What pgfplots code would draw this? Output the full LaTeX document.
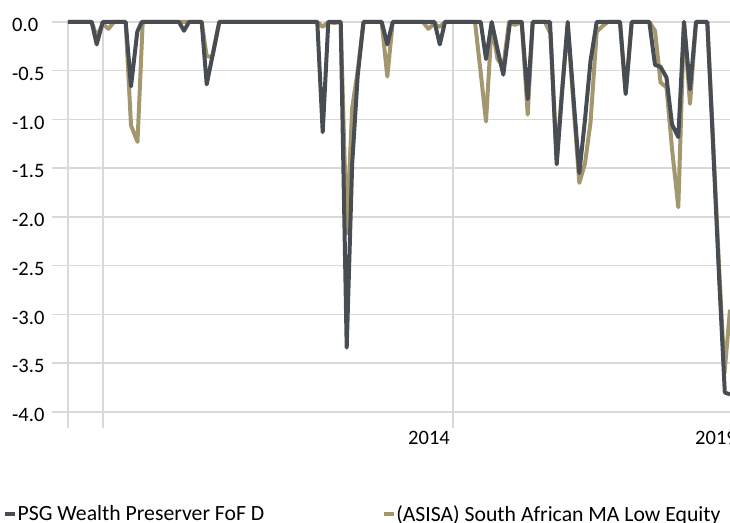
\documentclass[border=0pt]{standalone}
\usepackage{pgfplots}
\pgfplotsset{compat=1.18}
\usepackage{fontspec}
\setmainfont{Carlito}
\definecolor{psg}{HTML}{484D54}
\definecolor{asisa}{HTML}{A3976F}
\definecolor{gridc}{HTML}{D9D9D9}
\begin{document}
\begin{tikzpicture}
\begin{axis}[
  scale only axis, width=678pt, height=390pt,
  xmin=52, xmax=730, ymin=-4, ymax=0,
  axis line style={draw=none},
  clip=false,
  ytick={-4,-3.5,-3,-2.5,-2,-1.5,-1,-0.5,0},
  yticklabels={-4.0,-3.5,-3.0,-2.5,-2.0,-1.5,-1.0,-0.5,0.0},
  ymajorgrids, xmajorgrids,
  grid style={gridc, line width=1.5pt},
  xtick={68,103,453}, xticklabels={},
  tick align=outside, major tick length=16pt,
  xtick pos=bottom, ytick pos=left,
  xtick style={gridc, line width=1.5pt},
  ytick style={draw=none},
  tick label style={font=\fontsize{20.5}{24}\selectfont, text=black, inner sep=0pt},
  yticklabel style={anchor=west, xshift=-24pt, yshift=-3pt},
  extra x ticks={429,716},
  extra x tick labels={2014,2019},
  extra x tick style={grid=none, major tick length=0pt, tick style={draw=none},
    xticklabel style={anchor=base, yshift=-33pt}},
  legend columns=2,
  legend cell align=left,
  legend style={draw=none, fill=none, at={(axis description cs:-0.0723,-0.2615)}, anchor=west,
    font=\fontsize{21.7}{25}\selectfont, inner sep=0pt,
    nodes={inner sep=0.5pt},
    /tikz/every even column/.append style={column sep=117pt}},
  legend image code/.code={\draw[#1, line width=4pt] (0pt,0pt) -- (10pt,0pt);},
  every axis plot/.append style={line join=round},
]
\coordinate (SW) at (rel axis cs:0,0);
\coordinate (NE) at (rel axis cs:1,1);
\addplot[asisa, line width=4pt, forget plot] coordinates {
(68,0) (91.7,0) (96.7,-0.15) (102.7,-0.02) (108.5,-0.07) (114,0) (125.7,0) (131,-1.06) (137.5,-1.23) (142.7,0)
(184,0) (201.7,0) (206.7,-0.35) (212.3,-0.36) (219.3,0) (317.3,0) (322.7,-0.05) (328.3,0) (334,-0.01) (340.7,0)
(346.7,-2.17) (352.2,-0.88) (357.7,-0.5) (363.5,0) (381.7,0) (387.3,-0.56) (392.7,0) (423,0) (428.3,-0.07)
(434,-0.02) (439.8,-0.05) (445,0) (475,0) (480.7,-0.52) (486,-1.02) (491.7,-0.02) (497.5,-0.38) (503.3,-0.46)
(509,0) (515,-0.03) (521.7,0) (527.7,-0.95) (532.7,0) (545,0) (550.5,-0.12) (556.7,-1.42) (562,-0.7)
(567.7,-0.03) (573.5,-0.85) (579.3,-1.65) (585,-1.45) (590.5,-1.03) (596.7,-0.1) (602.7,-0.04) (608,0)
(620,0) (625.7,-0.72) (631.7,0) (649.3,0) (655,-0.09) (660.5,-0.62) (666.5,-0.67) (672,-1.3) (678.3,-1.9)
(684,0) (690,-0.84) (696,0) (707.3,0) (713,-1.2) (719,-2.5) (724.5,-3.6) (730,-2.95)
};
\addplot[psg, line width=4pt] coordinates {
(68,0) (91.7,0) (96.7,-0.23) (102.7,0) (125.7,0) (131,-0.66) (137.3,-0.10) (141.7,0) (179,0) (184,-0.09)
(189,0) (201.7,0) (206.7,-0.64) (219.3,0) (317.3,0) (322.7,-1.13) (328.3,0) (340.7,0) (346.7,-3.34)
(352.2,-1.45) (357.7,-0.55) (363.5,0) (381.7,0) (387.3,-0.23) (392.7,0) (434.5,0) (439.8,-0.23) (445,0)
(480.7,0) (486,-0.38) (491.7,0) (497.5,-0.28) (503.3,-0.54) (510,0) (521.7,0) (527.7,-0.79) (532.7,0)
(550,0) (556.7,-1.46) (562,-0.73) (567.7,0) (573.5,-0.78) (579.3,-1.55) (585,-1.0) (590.5,-0.4) (596.7,0)
(620,0) (625.7,-0.74) (631.7,0) (649.3,0) (655,-0.44) (660.5,-0.46) (666.5,-0.57) (672,-1.05) (678.3,-1.18)
(684,0) (690,-0.69) (696,0) (707.3,0) (713,-1.25) (719,-2.6) (724.8,-3.8) (730,-3.82)
};
\addlegendentry{PSG Wealth Preserver FoF D}
\addlegendimage{asisa}
\addlegendentry{(ASISA) South African MA Low Equity}
\end{axis}
\pgfresetboundingbox
\path ([xshift=-52pt,yshift=-111pt]SW) rectangle ([yshift=22pt]NE);
\end{tikzpicture}
\end{document}
